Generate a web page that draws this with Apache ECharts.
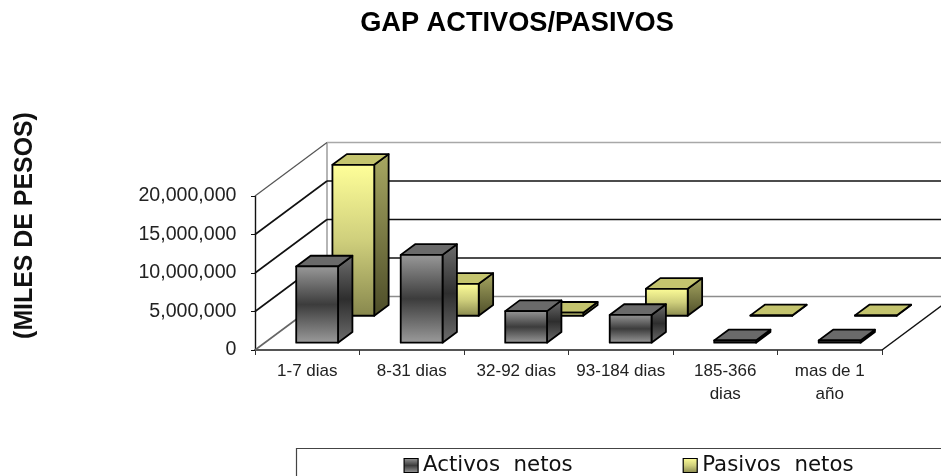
<!DOCTYPE html>
<html><head><meta charset="utf-8">
<style>html,body{margin:0;padding:0;background:#fff}#c{width:941px;height:476px}</style>
<script src="https://cdn.jsdelivr.net/npm/echarts@6/dist/echarts.min.js"></script>
</head><body><div id="c"></div>
<script>
const categories = ['1-7 dias','8-31 dias','32-92 dias','93-184 dias','185-366\ndias','mas de 1\naño'];
const activos = [9900000,11400000,4100000,3600000,300000,300000];
const pasivos = [19600000,4150000,400000,3500000,50000,50000];
const yTicks = [0,5000000,10000000,15000000,20000000];
const NAME_A = 'Activos  netos', NAME_P = 'Pasivos  netos';

const DX = 72, DY = -53.5;          // projected depth vector of the floor
const grad = (x2, y2, stops) => new echarts.graphic.LinearGradient(0,0,x2,y2,
  stops.map((c,i)=>({offset:i/(stops.length-1),color:c})));
const STYLES = {
  a:{front:['#9a9a9a','#3c3c3c','#9c9c9c'],top:'#6a6a6a',side:['#6e6e6e','#2e2e2e','#6e6e6e']},
  p:{front:['#ffff99','#cfcf7c','#87874d'],top:'#c4c46e',side:['#a8a862','#4c4c28']}
};
function barItem(key, depthFront, depthThick){
  return function(params, api){
    const i = api.value(0), v = api.value(1);
    const base = api.coord([i,0]), topP = api.coord([i,v]);
    const w = api.size([1,0])[0]*0.4;
    const ox = DX*depthFront, oy = DY*depthFront;
    const l = base[0]-w/2+ox, r = base[0]+w/2+ox, b = base[1]+oy, t = topP[1]+oy;
    const tx = DX*depthThick, ty = DY*depthThick;
    const s = STYLES[key];
    const line = {stroke:'#000',lineWidth:1.8,lineJoin:'round'};
    return {type:'group',children:[
      {type:'polygon',shape:{points:[[r,t],[r+tx,t+ty],[r+tx,b+ty],[r,b]]},
        style:Object.assign({fill:grad(0,1,s.side)},line)},
      {type:'polygon',shape:{points:[[l,t],[l+tx,t+ty],[r+tx,t+ty],[r,t]]},
        style:Object.assign({fill:s.top},line)},
      {type:'rect',shape:{x:l,y:t,width:r-l,height:b-t},
        style:Object.assign({fill:grad(0,1,s.front)},line)}
    ]};
  };
}
function wallItem(params, api){
  const v = api.value(1);
  const a = api.coord([0,v]), z = api.coord([categories.length-1,v]);
  const x0 = a[0]-api.size([1,0])[0]/2, x1 = z[0]+api.size([1,0])[0]/2, y = a[1];
  const isFloor = v === 0, isTop = v === yTicks[yTicks.length-1];
  const color = isTop ? '#a8a8a8' : (isFloor ? '#8c8c8c' : '#111');
  const kids = [
    {type:'line',shape:{x1:x0,y1:y,x2:x0+DX,y2:y+DY},style:{stroke:isTop?'#555':(isFloor?'#666':'#111'),lineWidth:isTop?1.2:1.6}},
    {type:'line',shape:{x1:x0+DX,y1:y+DY,x2:x1+DX,y2:y+DY},style:{stroke:color,lineWidth:1.7}}
  ];
  if(isFloor){
    kids.push({type:'line',shape:{x1:x1,y1:y,x2:x1+DX,y2:y+DY},style:{stroke:'#111',lineWidth:1.5}});
    kids.push({type:'line',shape:{x1:x0+DX,y1:y+DY,x2:x0+DX,y2:api.coord([0,yTicks[yTicks.length-1]])[1]+DY},style:{stroke:'#a8a8a8',lineWidth:1.7}});
  }
  return {type:'group',children:kids};
}
const chart = echarts.init(document.getElementById('c'),null,{renderer:'canvas'});
chart.setOption({
  animation:false,
  backgroundColor:'#fff',
  title:{text:'GAP ACTIVOS/PASIVOS',left:512,top:5,textAlign:'center',
    textStyle:{fontFamily:'Liberation Sans',fontWeight:'bold',fontSize:27.2,color:'#000'}},
  legend:{show:true,left:398.5,top:450,itemWidth:14,itemHeight:14,itemGap:110,
    textStyle:{fontFamily:'DejaVu Sans',fontSize:21.3,color:'#111'},
    data:[
      {name:NAME_A,icon:'rect',itemStyle:{color:grad(0,1,STYLES.a.front),borderColor:'#000',borderWidth:1.2}},
      {name:NAME_P,icon:'rect',itemStyle:{color:grad(0,1,STYLES.p.front),borderColor:'#000',borderWidth:1.2}}
    ]},
  graphic:[
    {type:'rect',z:-1,shape:{x:296.5,y:448.5,width:700,height:60},style:{fill:'#fff',stroke:'#444',lineWidth:1.2}},
    {type:'text',rotation:Math.PI/2,x:25.5,y:225.5,style:{text:'(MILES DE PESOS)',fontFamily:'Liberation Sans',fontWeight:'bold',fontSize:24.9,fill:'#111',align:'center',verticalAlign:'middle'}}
  ],
  grid:{left:255,top:196,width:627,height:154,containLabel:false},
  xAxis:{type:'category',data:categories,boundaryGap:true,
    axisLine:{lineStyle:{color:'#555',width:2}},
    axisTick:{show:true,alignWithLabel:false,length:5,lineStyle:{color:'#333'}},
    axisLabel:{interval:0,margin:10,fontFamily:'Liberation Sans',fontSize:17,lineHeight:23,color:'#222'},
    splitLine:{show:false}},
  yAxis:{type:'value',min:0,max:20000000,interval:5000000,
    axisLine:{show:true,lineStyle:{color:'#111',width:1.4}},
    axisTick:{show:true,length:4,lineStyle:{color:'#111'}},
    axisLabel:{margin:18.5,fontFamily:'Liberation Sans',fontSize:19.6,color:'#222',
      formatter:v=>v.toLocaleString('en-US')},
    splitLine:{show:false}},
  series:[
    {type:'custom',name:'walls',silent:true,clip:false,renderItem:wallItem,z:1,
      data:yTicks.map(v=>[0,v])},
    {type:'custom',name:NAME_P,clip:false,renderItem:barItem('p',0.64,0.2),z:2,
      data:pasivos.map((v,i)=>[i,v])},
    {type:'custom',name:NAME_A,clip:false,renderItem:barItem('a',0.137,0.2),z:3,
      data:activos.map((v,i)=>[i,v])}
  ]
});
</script></body></html>
